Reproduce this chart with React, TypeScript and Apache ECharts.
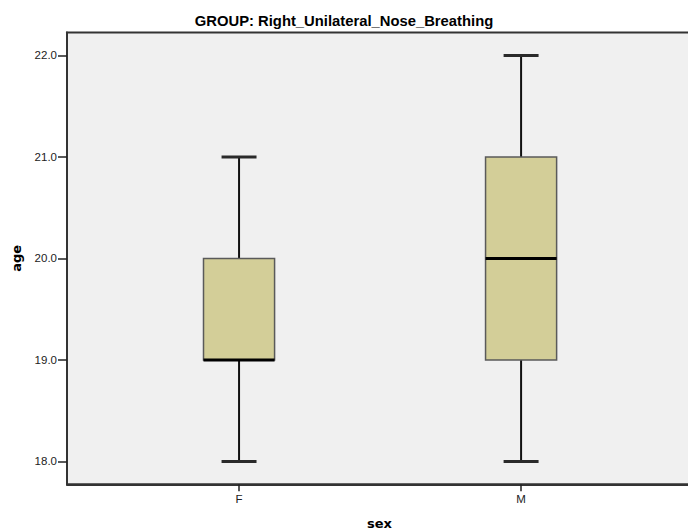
import React, { useEffect, useRef } from "react";
import * as echarts from "echarts";

const categories = ["F", "M"];
const catPositions = [0, 1];
const minVals = [18, 18];
const q1Vals = [19, 19];
const medianVals = [19, 20];
const q3Vals = [20, 21];
const maxVals = [21, 22];
const yTicks = [18, 19, 20, 21, 22];

export default function App() {
  const ref = useRef<HTMLDivElement>(null);
  useEffect(() => {
    if (!ref.current) return;
    const chart = echarts.init(ref.current, null, { renderer: "svg" });
    const data = categories.map((c, i) => [
      catPositions[i],
      minVals[i],
      q1Vals[i],
      medianVals[i],
      q3Vals[i],
      maxVals[i],
    ]);
    const font = "Liberation Sans, Arial, sans-serif";
    const nameFont = "DejaVu Sans, Verdana, sans-serif";
    chart.setOption({
      animation: false,
      backgroundColor: "#ffffff",
      title: {
        text: "GROUP: Right_Unilateral_Nose_Breathing",
        left: "center",
        top: 8,
        textStyle: { fontFamily: font, fontSize: 14.8, fontWeight: "bold", color: "#000" },
      },
      grid: {
        left: 67,
        top: 32.5,
        width: 625,
        height: 451.8,
        outerBoundsMode: "none",
        containLabel: false,
        show: true,
        backgroundColor: "#f0f0f0",
        borderColor: "#333333",
        borderWidth: 2,
      },
      xAxis: {
        type: "value",
        min: -0.61,
        max: 1.606,
        name: "sex",
        nameLocation: "middle",
        nameGap: 33,
        nameTextStyle: { fontFamily: nameFont, fontSize: 13, fontWeight: "bold", color: "#000" },
        splitLine: { show: false },
        axisLine: { show: true, onZero: false, lineStyle: { color: "#333333", width: 2 } },
        axisTick: {
          show: true,
          length: 7,
          customValues: catPositions,
          lineStyle: { color: "#222", width: 1.5 },
        },
        axisLabel: {
          customValues: catPositions,
          formatter: (v: number) => categories[Math.round(v)] ?? "",
          fontFamily: font,
          fontSize: 11.5,
          color: "#222",
          margin: 9,
        },
      },
      yAxis: {
        type: "value",
        min: 17.775,
        max: 22.2266,
        name: "age",
        nameLocation: "middle",
        nameGap: 44,
        nameRotate: 90,
        nameTextStyle: { fontFamily: nameFont, fontSize: 13, fontWeight: "bold", color: "#000" },
        splitLine: { show: false },
        axisLine: { show: true, onZero: false, lineStyle: { color: "#333333", width: 2 } },
        axisTick: {
          show: true,
          length: 9,
          customValues: yTicks,
          lineStyle: { color: "#222", width: 1.5 },
        },
        axisLabel: {
          customValues: yTicks,
          formatter: (v: number) => v.toFixed(1),
          fontFamily: font,
          fontSize: 11.5,
          color: "#222",
          margin: 10,
        },
      },
      series: [
        {
          type: "custom",
          data,
          dimensions: ["x", "min", "q1", "median", "q3", "max"],
          silent: true,
          renderItem: (params: any, api: any) => {
            const x = api.value(0);
            const lo = api.coord([x, api.value(1)]);
            const q1 = api.coord([x, api.value(2)]);
            const med = api.coord([x, api.value(3)]);
            const q3 = api.coord([x, api.value(4)]);
            const hi = api.coord([x, api.value(5)]);
            const boxW = api.size([0.252, 0])[0];
            const capW = api.size([0.124, 0])[0];
            const cx = lo[0];
            const lineStyle = { stroke: "#111", lineWidth: 2 };
            const capStyle = { stroke: "#2a2a2a", lineWidth: 3 };
            return {
              type: "group",
              children: [
                { type: "line", shape: { x1: cx, y1: hi[1], x2: cx, y2: q3[1] }, style: lineStyle },
                { type: "line", shape: { x1: cx, y1: q1[1], x2: cx, y2: lo[1] }, style: lineStyle },
                { type: "line", shape: { x1: cx - capW / 2, y1: hi[1], x2: cx + capW / 2, y2: hi[1] }, style: capStyle },
                { type: "line", shape: { x1: cx - capW / 2, y1: lo[1], x2: cx + capW / 2, y2: lo[1] }, style: capStyle },
                {
                  type: "rect",
                  shape: { x: cx - boxW / 2, y: q3[1], width: boxW, height: q1[1] - q3[1] },
                  style: { fill: "#d3ce98", stroke: "#5a5a5a", lineWidth: 1.5 },
                },
                {
                  type: "line",
                  shape: { x1: cx - boxW / 2, y1: med[1], x2: cx + boxW / 2, y2: med[1] },
                  style: { stroke: "#000", lineWidth: 3 },
                },
              ],
            };
          },
        },
      ],
    });
    return () => chart.dispose();
  }, []);
  return <div ref={ref} style={{ width: 688, height: 531, position: "absolute", left: 0, top: 0 }} />;
}
